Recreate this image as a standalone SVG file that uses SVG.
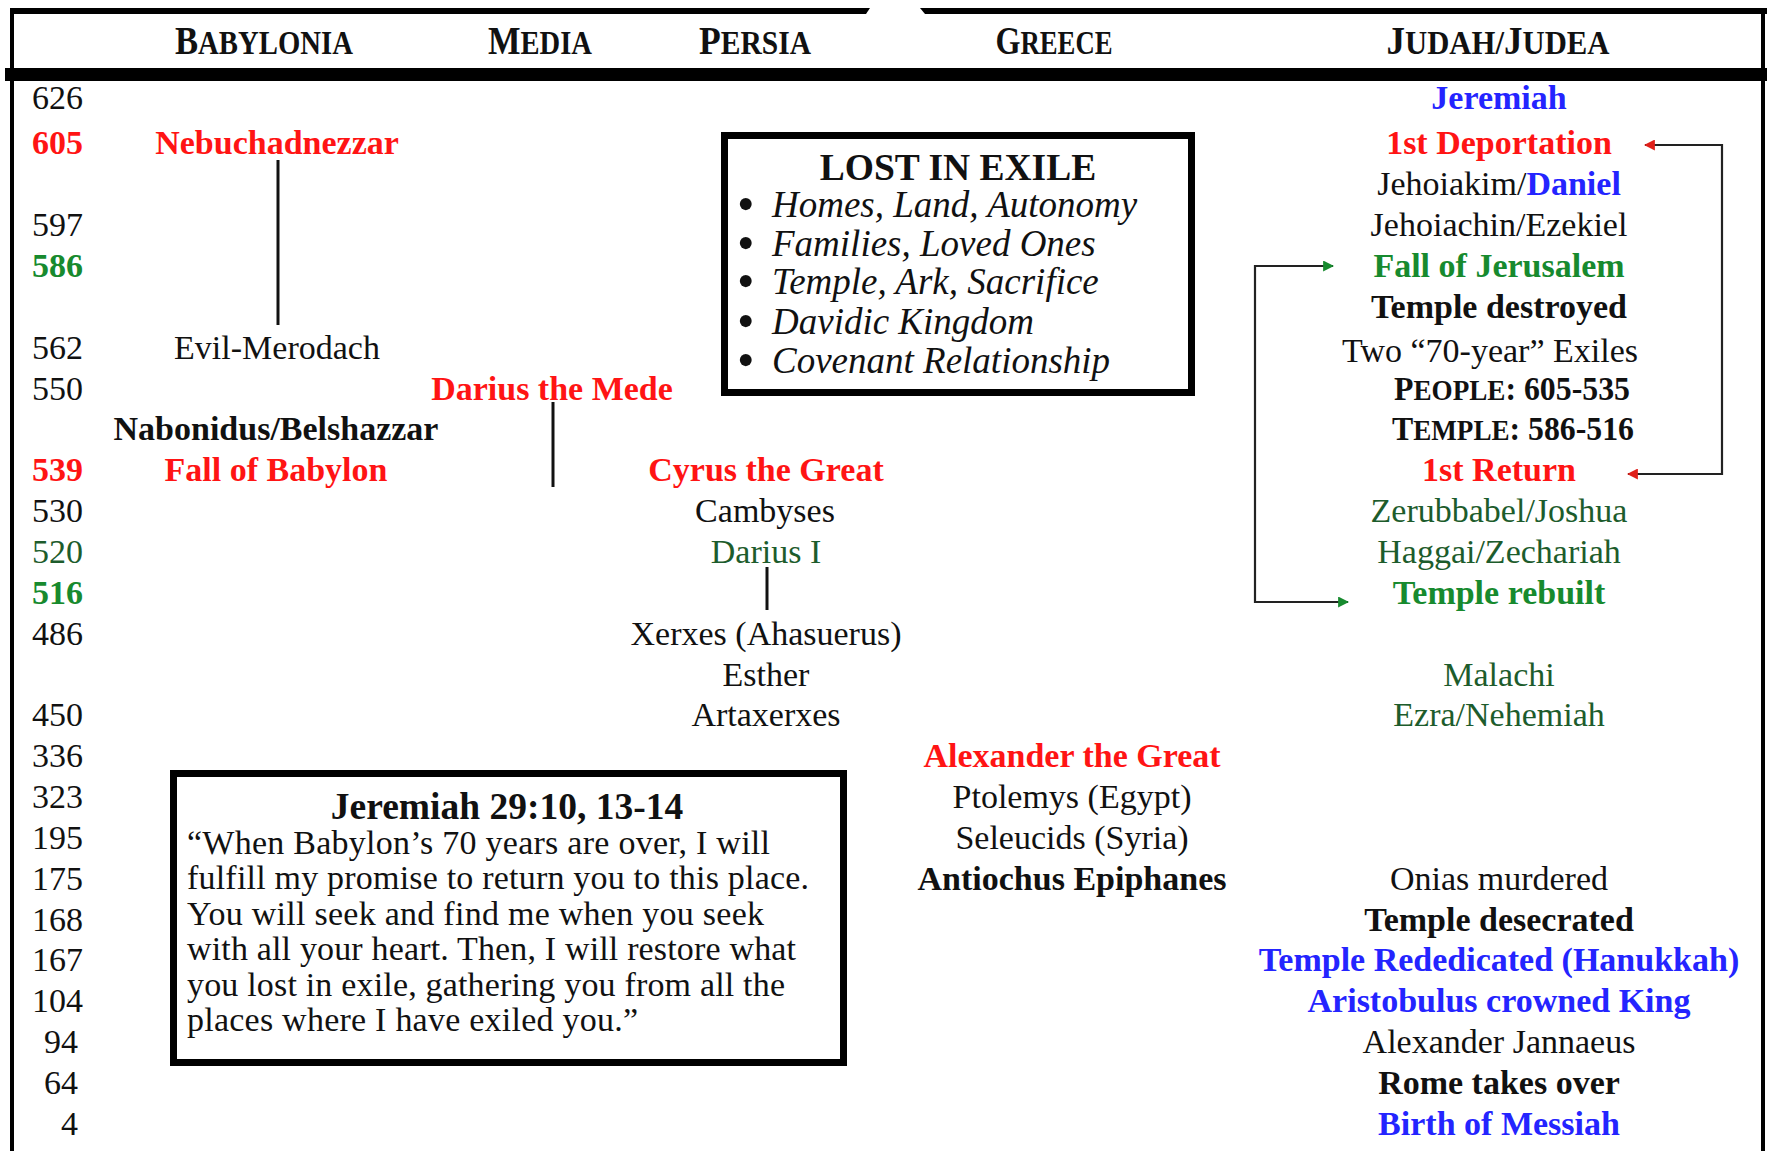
<svg xmlns="http://www.w3.org/2000/svg" width="1767" height="1151" viewBox="0 0 1767 1151">
<style>
text{font-family:'Liberation Serif','Times New Roman',serif;font-size:34px;fill:#111}
.c{text-anchor:middle}
.b{font-weight:bold}
.red{fill:#ff1414}
.blue{fill:#2424ff}
.grn{fill:#178a2e}
.dg{fill:#1d5c2c}
.hdr{font-weight:bold;font-size:34px;text-anchor:middle}
.hdr tspan{font-size:41px}
.yr{text-anchor:end}
.frame{fill:#000}
.vline{stroke:#111;stroke-width:3;fill:none}
.conn{stroke:#222;stroke-width:2.2;fill:none}
.box{fill:#fff;stroke:#000;stroke-width:7}
.it{font-style:italic;font-size:37px}
.bul{font-style:normal;font-size:50px}
.ttl{font-weight:bold;font-size:37.5px;text-anchor:middle}
.sc{font-size:29px}
</style>
<defs>
<marker id="arrR" viewBox="0 0 10 10" refX="9" refY="5" markerWidth="5" markerHeight="5" orient="auto-start-reverse" markerUnits="strokeWidth"><path d="M0,0 L10,5 L0,10 z" fill="#e0201a"/></marker>
<marker id="arrG" viewBox="0 0 10 10" refX="9" refY="5" markerWidth="5" markerHeight="5" orient="auto-start-reverse" markerUnits="strokeWidth"><path d="M0,0 L10,5 L0,10 z" fill="#178a2e"/></marker>
</defs>
<rect width="1767" height="1151" fill="#fff"/>
<g id="frame">
<polygon class="frame" points="10,8 870,8 866,14 10,14"/>
<polygon class="frame" points="920,8 1767,8 1767,14 925,14"/>
<rect class="frame" x="10" y="8" width="4" height="1143"/>
<rect class="frame" x="1761" y="8" width="4" height="1143"/>
<rect class="frame" x="5" y="68" width="1762" height="13"/>
</g>
<g id="headers">
<text class="hdr" x="264" y="54" textLength="178" lengthAdjust="spacingAndGlyphs"><tspan>B</tspan>ABYLONIA</text>
<text class="hdr" x="540" y="54" textLength="104" lengthAdjust="spacingAndGlyphs"><tspan>M</tspan>EDIA</text>
<text class="hdr" x="755" y="54" textLength="112" lengthAdjust="spacingAndGlyphs"><tspan>P</tspan>ERSIA</text>
<text class="hdr" x="1054" y="54" textLength="117" lengthAdjust="spacingAndGlyphs"><tspan>G</tspan>REECE</text>
<text class="hdr" x="1498" y="54" textLength="223" lengthAdjust="spacingAndGlyphs"><tspan>J</tspan>UDAH/<tspan>J</tspan>UDEA</text>
</g>
<g id="years">
<text class="yr" x="83" y="109">626</text>
<text class="yr b red" x="83" y="154.4">605</text>
<text class="yr" x="83" y="236.1">597</text>
<text class="yr b grn" x="83" y="277">586</text>
<text class="yr" x="83" y="358.7">562</text>
<text class="yr" x="83" y="399.5">550</text>
<text class="yr b red" x="83" y="481.2">539</text>
<text class="yr" x="83" y="522.1">530</text>
<text class="yr dg" x="83" y="562.9">520</text>
<text class="yr b grn" x="83" y="603.8">516</text>
<text class="yr" x="83" y="644.6">486</text>
<text class="yr" x="83" y="726.3">450</text>
<text class="yr" x="83" y="767.2">336</text>
<text class="yr" x="83" y="808">323</text>
<text class="yr" x="83" y="848.9">195</text>
<text class="yr" x="83" y="889.7">175</text>
<text class="yr" x="83" y="930.6">168</text>
<text class="yr" x="83" y="971.4">167</text>
<text class="yr" x="83" y="1012.3">104</text>
<text class="yr" x="78" y="1053.1">94</text>
<text class="yr" x="78" y="1094">64</text>
<text class="yr" x="78" y="1134.8">4</text>
</g>
<g id="babylonia">
<text class="c b red" x="277" y="154.4">Nebuchadnezzar</text>
<text class="c" x="277" y="358.7">Evil-Merodach</text>
<text class="c b" x="276" y="440.4">Nabonidus/Belshazzar</text>
<text class="c b red" x="276" y="481.2">Fall of Babylon</text>
</g>
<g id="media">
<text class="c b red" x="552" y="399.5">Darius the Mede</text>
</g>
<g id="persia">
<text class="c b red" x="766" y="481.2">Cyrus the Great</text>
<text class="c" x="765" y="522.1">Cambyses</text>
<text class="c dg" x="766" y="562.9">Darius I</text>
<text class="c" x="766" y="644.6">Xerxes (Ahasuerus)</text>
<text class="c" x="766" y="685.5">Esther</text>
<text class="c" x="766" y="726.3">Artaxerxes</text>
</g>
<g id="greece">
<text class="c b red" x="1072" y="767.2">Alexander the Great</text>
<text class="c" x="1072" y="808">Ptolemys (Egypt)</text>
<text class="c" x="1072" y="848.9">Seleucids (Syria)</text>
<text class="c b" x="1072" y="889.7">Antiochus Epiphanes</text>
</g>
<g id="judah">
<text class="c b blue" x="1499" y="109">Jeremiah</text>
<text class="c b red" x="1499" y="154.4">1st Deportation</text>
<text class="c" x="1499" y="195.3">Jehoiakim/<tspan class="b blue">Daniel</tspan></text>
<text class="c" x="1499" y="236.1">Jehoiachin/Ezekiel</text>
<text class="c b grn" x="1499" y="277">Fall of Jerusalem</text>
<text class="c b" x="1499" y="317.8">Temple destroyed</text>
<text class="c" x="1490" y="362">Two “70-year” Exiles</text>
<text class="c b" x="1512" y="399.5" textLength="236" lengthAdjust="spacingAndGlyphs">P<tspan class="sc">EOPLE</tspan>: 605-535</text>
<text class="c b" x="1513" y="440.4" textLength="242" lengthAdjust="spacingAndGlyphs">T<tspan class="sc">EMPLE</tspan>: 586-516</text>
<text class="c b red" x="1499" y="481.2">1st Return</text>
<text class="c dg" x="1499" y="522.1">Zerubbabel/Joshua</text>
<text class="c dg" x="1499" y="562.9">Haggai/Zechariah</text>
<text class="c b grn" x="1499" y="603.8">Temple rebuilt</text>
<text class="c dg" x="1499" y="685.5">Malachi</text>
<text class="c dg" x="1499" y="726.3">Ezra/Nehemiah</text>
<text class="c" x="1499" y="889.7">Onias murdered</text>
<text class="c b" x="1499" y="930.6">Temple desecrated</text>
<text class="c b blue" x="1499" y="971.4">Temple Rededicated (Hanukkah)</text>
<text class="c b blue" x="1499" y="1012.3">Aristobulus crowned King</text>
<text class="c" x="1499" y="1053.1">Alexander Jannaeus</text>
<text class="c b" x="1499" y="1094">Rome takes over</text>
<text class="c b blue" x="1499" y="1134.8">Birth of Messiah</text>
</g>
<g id="lost-in-exile">
<rect class="box" x="724.5" y="135.5" width="467" height="257"/>
<text class="ttl" x="958" y="180">LOST IN EXILE</text>
<text class="it" x="737" y="217"><tspan class="bul" dy="4">•</tspan><tspan x="772" dy="-4">Homes, Land, Autonomy</tspan></text>
<text class="it" x="737" y="256"><tspan class="bul" dy="4">•</tspan><tspan x="772" dy="-4">Families, Loved Ones</tspan></text>
<text class="it" x="737" y="294"><tspan class="bul" dy="4">•</tspan><tspan x="772" dy="-4">Temple, Ark, Sacrifice</tspan></text>
<text class="it" x="737" y="334"><tspan class="bul" dy="4">•</tspan><tspan x="772" dy="-4">Davidic Kingdom</tspan></text>
<text class="it" x="737" y="373"><tspan class="bul" dy="4">•</tspan><tspan x="772" dy="-4">Covenant Relationship</tspan></text>
</g>
<g id="jeremiah-quote">
<rect class="box" x="173.5" y="773.5" width="670" height="289"/>
<text class="ttl" x="507" y="819">Jeremiah 29:10, 13-14</text>
<text x="187" y="854" textLength="583">“When Babylon’s 70 years are over, I will</text>
<text x="187" y="889" textLength="622">fulfill my promise to return you to this place.</text>
<text x="187" y="925" textLength="577">You will seek and find me when you seek</text>
<text x="187" y="960" textLength="609">with all your heart. Then, I will restore what</text>
<text x="187" y="996" textLength="598">you lost in exile, gathering you from all the</text>
<text x="187" y="1031" textLength="451">places where I have exiled you.”</text>
</g>
<g id="connectors">
<line class="vline" x1="278" y1="160" x2="278" y2="325"/>
<line class="vline" x1="553" y1="402" x2="553" y2="487"/>
<line class="vline" x1="767" y1="567" x2="767" y2="610"/>
<path class="conn" d="M1645,145 H1722 V474 H1628" marker-start="url(#arrR)" marker-end="url(#arrR)"/>
<path class="conn" d="M1333,266 H1255 V602 H1348" marker-start="url(#arrG)" marker-end="url(#arrG)"/>
</g>
</svg>
